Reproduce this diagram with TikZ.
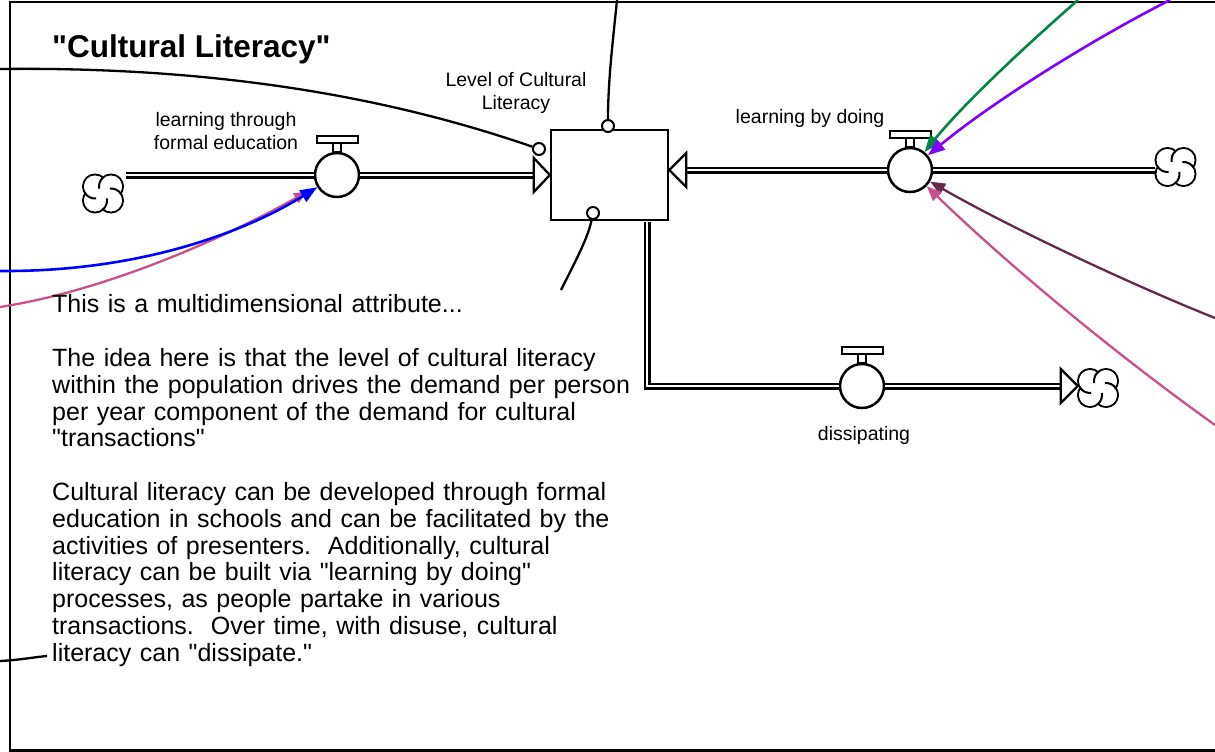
\documentclass[tikz,border=0pt]{standalone}
\usepackage{fontspec}
\setmainfont{Liberation Sans}[Ligatures=TeXOff]
\usetikzlibrary{arrows.meta,calc}

\definecolor{cblue}{RGB}{0,0,255}
\definecolor{cpink}{RGB}{200,80,140}
\definecolor{cgreen}{RGB}{0,135,70}
\definecolor{cpurple}{RGB}{128,0,255}
\definecolor{cmaroon}{RGB}{100,40,75}

\newcommand\notefont{\fontsize{25}{26.8}\selectfont\spaceskip=8.5pt\relax}

\tikzset{
  pipe/.style={line width=2.3pt, double=white, double distance=2.4pt, line join=miter},
  valve/.style={circle, draw, line width=2.5pt, fill=white, minimum size=44pt, inner sep=0pt},
  stockbox/.style={rectangle, draw, line width=2.4pt, fill=white, minimum width=117pt, minimum height=90pt, inner sep=0pt},
  cloudspot/.style={rectangle, minimum width=40pt, minimum height=38pt, inner sep=0pt},
  tap/.style={circle, draw, line width=2pt, minimum size=12pt, inner sep=0pt, fill=white},
  link/.style={line width=2.3pt},
  infl/.style={line width=2.6pt, -{Triangle[length=17pt,width=13pt]}},
  thinfl/.style={line width=2.3pt, -{Triangle[length=15pt,width=12pt]}},
  hollowhead/.style={draw, line width=2.3pt, fill=white, line join=miter},
  handle/.style={draw, line width=2pt, fill=white},
  frameline/.style={line width=2.6pt},
  lbl/.style={font=\fontsize{19.5}{23.5}\selectfont, inner sep=0pt, align=center},
  bodytext/.style={font=\notefont, inner sep=0pt, align=left},
  titletext/.style={font=\bfseries\fontsize{31.5}{36}\selectfont, inner sep=0pt},
  pics/cloudpic/.style={code={
    \begin{scope}[line width=2pt, xscale=-1]
      \foreach \a/\b in {8/7,-8/7,-8/-7,8/-7}{\draw (\a,\b) circle[radius=12];}
      \foreach \a/\b in {8/7,-8/7,-8/-7,8/-7}{\fill[white] (\a,\b) circle[radius=10.9];}
      \draw ([shift={(8,7)}]131.8:12) arc[start angle=131.8, end angle=190, radius=12];
      \draw ([shift={(8,-7)}]35.7:12) arc[start angle=35.7, end angle=95, radius=12];
      \draw ([shift={(-8,-7)}]-48.2:12) arc[start angle=-48.2, end angle=10, radius=12];
      \draw ([shift={(-8,7)}]215.7:12) arc[start angle=215.7, end angle=275, radius=12];
    \end{scope}
  }}
}

\begin{document}
\begin{tikzpicture}[x=1pt,y=-1pt]
\useasboundingbox (0,0) rectangle (1215,752);
\fill[white] (0,0) rectangle (1215,752);
\clip (0,0) rectangle (1215,752);

% frame
\draw[frameline] (1230,2) -- (10,2) -- (10,750.5) -- (1230,750.5);

% title
\node[titletext, anchor=base west] (title) at (52,58) {"Cultural Literacy"};

% clouds
\node[cloudspot] (c1) at (103,193.5) {};
\node[cloudspot] (c2) at (1175.5,167) {};
\node[cloudspot] (c3) at (1098,388) {};
\pic at (c1) {cloudpic};
\pic at (c2) {cloudpic};
\pic at (c3) {cloudpic};

% stock
\node[stockbox] (box) at (609.5,175) {};

% valves
\node[valve] (v1) at (337,175) {};
\node[valve] (v2) at (910,170) {};
\node[valve] (v3) at (862,386) {};
\foreach \v in {v1,v2,v3}{
  \draw[handle] ([shift={(-4,0)}]\v.north) rectangle ([shift={(4,-9)}]\v.north);
  \draw[handle] ([shift={(-20.5,-9)}]\v.north) rectangle ([shift={(20.5,-15.5)}]\v.north);
}

% pipes
\draw[pipe] ($(c1.east |- v1.west)+(3,0)$) -- (v1.west);
\draw[pipe] (v1.east) -- ($(box.west |- v1.east)+(-16,0)$);
\draw[hollowhead] (box.west |- v1.east) -- ++(-16,-17) -- ++(0,34) -- cycle;

\coordinate (rt) at (box.east |- v2.west);
\draw[pipe] (v2.east) -- (c2.west |- v2.east);
\draw[pipe] (v2.west) -- ($(rt)+(17,0)$);
\draw[hollowhead] (rt) -- ++(17,-17) -- ++(0,34) -- cycle;

\coordinate (ob) at (647,222);
\draw[pipe] (ob) |- (v3.west);
\coordinate (dt) at (c3.west |- v3.east);
\draw[pipe] (v3.east) -- ($(dt)+(-17,0)$);
\draw[hollowhead] (dt) -- ++(-17,-17) -- ++(0,34) -- cycle;

% labels
\node[lbl, anchor=north] (l1) at (226,112) {learning through\\formal education};
\node[lbl, anchor=north] (l2) at (516,72) {Level of Cultural\\Literacy};
\node[lbl, anchor=base] (l3) at (810,123) {learning by doing};
\node[lbl, anchor=base] (l4) at (864,440) {dissipating};

% small connector circles
\node[tap] (k1) at (539,149) {};
\node[tap] (k2) at (608,126) {};
\node[tap] (k3) at (593,213) {};

% black connectors
\coordinate (e1) at (0,69);
\draw[link] (e1) .. controls (250,66) and (420,108) .. (k1);
\coordinate (e2) at (617,0);
\draw[link] (e2) .. controls (613,40) and (608,80) .. (k2);
\coordinate (e3) at (561,290);
\draw[link] (e3) .. controls (575,262) and (588,238) .. (k3);
\coordinate (e4) at (0,661);
\coordinate (e4b) at (47,656);
\draw[link] (e4) .. controls (20,660) and (35,657) .. (e4b);

% coloured influence arrows
\coordinate (p0) at (0,307);
\draw[cpink, line width=2.3pt, -{Triangle[length=12pt,width=11pt]}, shorten >=12pt] (p0) .. controls (110,290) and (230,235) .. (v1);
\coordinate (b0) at (0,271);
\draw[infl, cblue] (b0) .. controls (140,272) and (245,232) .. (v1);

\coordinate (g0) at (1078,0);
\draw[infl, cgreen] (g0) .. controls (1030,42) and (965,102) .. (v2);
\coordinate (u0) at (1170,0);
\draw[infl, cpurple] (u0) .. controls (1095,38) and (995,100) .. (v2);
\coordinate (m0) at (1215,318);
\draw[thinfl, cmaroon] (m0) .. controls (1120,280) and (1000,222) .. (v2);
\coordinate (q0) at (1215,425);
\draw[thinfl, cpink] (q0) .. controls (1110,350) and (1005,262) .. (v2);

% comment text
\node[bodytext, anchor=north west] (note) at (52,294.5) {This is a multidimensional attribute...\\[26.8pt]
The idea here is that the level of cultural literacy\\
within the population drives the demand per person\\
per year component of the demand for cultural\\
"transactions"\\[26.8pt]
Cultural literacy can be developed through formal\\
education in schools and can be facilitated by the\\
activities of presenters.\ \ Additionally, cultural\\
literacy can be built via "learning by doing"\\
processes, as people partake in various\\
transactions.\ \ Over time, with disuse, cultural\\
literacy can "dissipate."};
\end{tikzpicture}
\end{document}
